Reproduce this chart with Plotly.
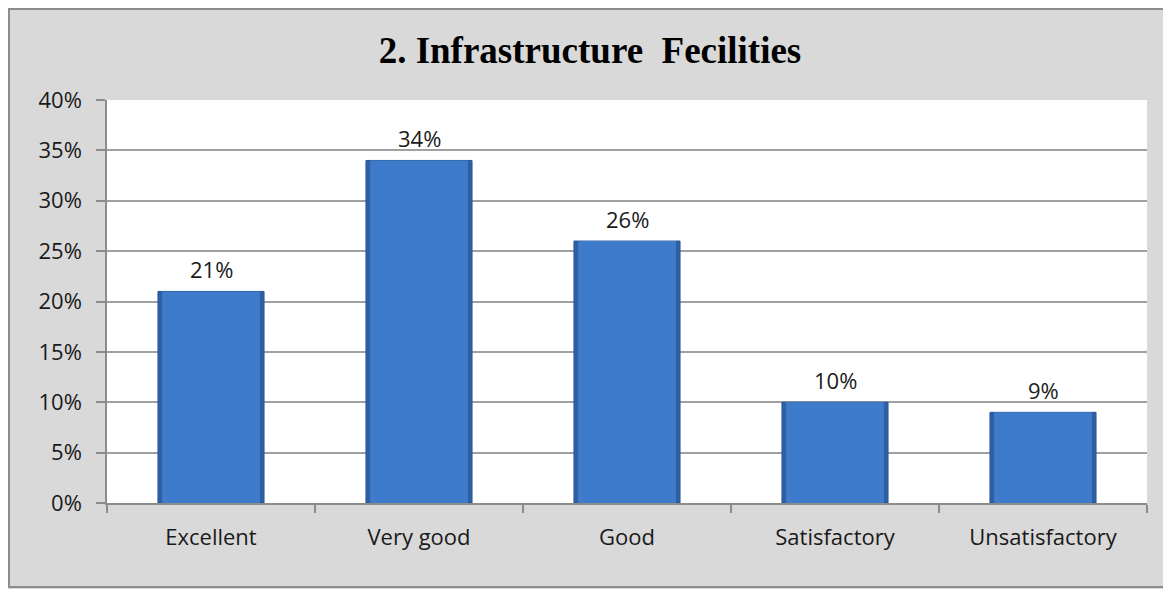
import plotly.graph_objects as go

categories = ["Excellent", "Very good", "Good", "Satisfactory", "Unsatisfactory"]
values = [21, 34, 26, 10, 9]
tick_vals = [0, 5, 10, 15, 20, 25, 30, 35, 40]
tick_text = ["0%", "5%", "10%", "15%", "20%", "25%", "30%", "35%", "40%"]
labels = [f"{v}%" for v in values]

FONT = "Open Sans, Liberation Sans"
W, H = 1163, 581

fig = go.Figure()
# bar body (darker edge)
fig.add_trace(go.Bar(
    x=categories, y=values, width=0.51,
    marker=dict(color="#2f60a5", line=dict(color="#2a5592", width=1)),
    hoverinfo="skip",
))
# bar face (lighter centre)
fig.add_trace(go.Bar(
    x=categories, y=values, width=0.47,
    marker=dict(color="#3e7ccb", line=dict(width=0)),
))
for c, v, t in zip(categories, values, labels):
    fig.add_annotation(x=c, y=v, text=t, showarrow=False, yshift=22,
                       font=dict(family=FONT, size=22, color="#1a1a1a"))

fig.update_layout(
    width=W, height=H, barmode="overlay",
    paper_bgcolor="#d9d9d9", plot_bgcolor="#ffffff",
    margin=dict(l=99, r=24, t=92, b=86),
    showlegend=False,
    title=dict(text="<b>2. Infrastructure  Fecilities</b>", x=0.5004, xanchor="center",
               y=1 - 42 / H, yanchor="middle",
               font=dict(family="Liberation Serif, Times New Roman", size=37, color="#000000")),
    font=dict(family=FONT, size=22, color="#1a1a1a"),
)
fig.update_xaxes(
    showline=True, linecolor="#8c8c8c", linewidth=1.5,
    ticks="outside", tickson="boundaries", ticklen=8, tickcolor="#8c8c8c", tickwidth=1.5,
    showgrid=False, tickfont=dict(size=22), ticklabelstandoff=14,
)
fig.update_yaxes(
    range=[0, 40], tickvals=tick_vals, ticktext=tick_text,
    showline=True, linecolor="#8c8c8c", linewidth=1.5,
    ticks="outside", ticklen=9, tickcolor="#8c8c8c", tickwidth=1.5,
    showgrid=True, gridcolor="#a0a0a0", gridwidth=1.5,
    tickfont=dict(size=22), zeroline=False, ticklabelstandoff=10,
)
fig.add_shape(type="rect", xref="paper", yref="paper",
              x0=-98 / 1040, x1=1.2, y0=-84 / 403, y1=1 + 91 / 403,
              line=dict(color="#8c8c8c", width=2), fillcolor="rgba(0,0,0,0)", layer="below")
fig.write_html("out.html")
